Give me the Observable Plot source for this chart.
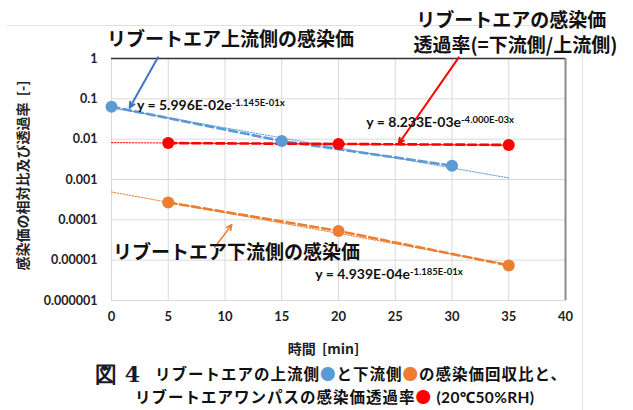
<!DOCTYPE html>
<html>
<head>
<meta charset="utf-8">
<script src="https://cdn.jsdelivr.net/npm/d3@7"></script>
<script src="https://cdn.jsdelivr.net/npm/@observablehq/plot@0.6"></script>
<style>
  html, body { margin: 0; padding: 0; background: #fff; }
  #wrap { position: relative; width: 633px; height: 410px; overflow: hidden; background: #fff; }
  #chart { position: absolute; left: 0; top: 0; }
  .outline-top { position: absolute; left: 7px; top: 25px; width: 575px; height: 0; border-top: 1px solid #e0e0e0; }
  .outline-right { position: absolute; left: 582px; top: 25px; width: 0; height: 385px; border-left: 1px solid #e0e0e0; }
  .cap { position: absolute; font-family: "Noto Sans CJK JP", sans-serif; font-weight: 700; font-size: 15.5px; letter-spacing: 1px; color: #111; white-space: nowrap; line-height: 1; }
  .fig { position: absolute; left: 95px; top: 363px; font-family: "DejaVu Serif", "Liberation Serif", serif; font-weight: bold; font-size: 22px; color: #1a1a2a; white-space: nowrap; line-height: 1; }
  .lat { font-family: Lato, "Noto Sans", sans-serif; letter-spacing: 0.3px; }
</style>
</head>
<body>
<div id="wrap">
  <div class="outline-top"></div>
  <div class="outline-right"></div>
  <div id="chart"></div>
  <div class="fig">図 4</div>
  <div class="cap" id="cap1" style="left:155px; top:366px;"></div>
  <div class="cap" id="cap2" style="left:135px; top:389px;"></div>
</div>
<script>
// ---- data ----
const xTicks = [0, 5, 10, 15, 20, 25, 30, 35, 40];
const yTicks = [1, 0.1, 0.01, 0.001, 0.0001, 0.00001, 0.000001];
const yTickLabels = ["1", "0.1", "0.01", "0.001", "0.0001", "0.00001", "0.000001"];

// upstream (blue)
const upX = [0, 15, 30];
const upY = [0.064, 0.0090, 0.0022];
// downstream (orange)
const downX = [5, 20, 35];
const downY = [0.00027, 0.000053, 0.0000074];
// transmission rate (red)
const transX = [5, 20, 35];
const transY = [0.0080, 0.0076, 0.0072];

// exponential trend lines (straight on log scale), endpoints
const trendX = [0, 35];
const upTrendY = [0.060, 0.00109];
const downTrendY = [0.00049, 0.0000078];
const transTrendY = [0.0082, 0.0071];

const BLUE = "#5B9BD5", ORANGE = "#ED7D31", RED = "#FF0000";

const upData = upX.map((x, i) => ({x, y: upY[i]}));
const downData = downX.map((x, i) => ({x, y: downY[i]}));
const transData = transX.map((x, i) => ({x, y: transY[i]}));
const upTrend = trendX.map((x, i) => ({x, y: upTrendY[i]}));
const downTrend = trendX.map((x, i) => ({x, y: downTrendY[i]}));
const transTrend = trendX.map((x, i) => ({x, y: transTrendY[i]}));
const tickLabelOf = new Map(yTicks.map((t, i) => [t, yTickLabels[i]]));

// annotations (data-space anchors)
const jpTitles = [
  {x: -0.4, y: 2.84, text: "リブートエア上流側の感染価"},
  {x: 26.85, y: 8.6, text: "リブートエアの感染価"},
  {x: 26.6, y: 2.1, text: "透過率(=下流側/上流側)"},
  {x: 0.13, y: 1.5e-5, text: "リブートエア下流側の感染価"}
];
const equations = [
  {x: 2.25, y: 0.068, text: "y = 5.996E-02e^-1.145E-01x"},
  {x: 22.45, y: 0.0262, text: "y = 8.233E-03e^-4.000E-03x"},
  {x: 17.95, y: 4.3e-6, text: "y = 4.939E-04e^-1.185E-01x"}
];
const arrows = [
  {x1: 4.1, y1: 1.07, x2: 1.6, y2: 0.06, c: "#4472C4", w: 2},
  {x1: 30.6, y1: 1.07, x2: 25.3, y2: 0.0077, c: RED, w: 2},
  {x1: 9.1, y1: 2.1e-5, x2: 10.6, y2: 7.6e-5, c: ORANGE, w: 1.6}
];

const chart = Plot.plot({
  width: 633,
  height: 362,
  marginLeft: 111,
  marginRight: 68,
  marginTop: 58,
  marginBottom: 62,
  style: {background: "transparent", overflow: "visible"},
  x: {domain: [0, 40]},
  y: {type: "log", domain: [1e-6, 1]},
  marks: [
    Plot.gridX({ticks: xTicks, stroke: "#d9d9d9", strokeOpacity: 1}),
    Plot.gridY({ticks: yTicks, stroke: "#d9d9d9", strokeOpacity: 1}),
    Plot.frame({stroke: "#d9d9d9"}),
    Plot.ruleY([1], {stroke: "#333", strokeWidth: 1.5}),
    Plot.ruleX([40], {stroke: "#8a8a8a", strokeWidth: 2}),
    Plot.axisX({ticks: xTicks, tickSize: 0, tickPadding: 11, label: null,
      fontSize: 13, fontWeight: "bold", fontFamily: "Lato, sans-serif", fill: "#222"}),
    Plot.axisY({ticks: yTicks, tickSize: 0, tickPadding: 14, label: null,
      tickFormat: d => tickLabelOf.get(d),
      fontSize: 12.5, fontWeight: "bold", fontFamily: "Lato, sans-serif", fill: "#222"}),
    Plot.text(["時間  [min]"], {frameAnchor: "bottom", dx: -15, dy: 53, fontSize: 14, fontWeight: "bold",
      fontFamily: "Noto Sans CJK JP, sans-serif", fill: "#222"}),
    Plot.text(["感染価の相対比及び透過率  [-]"], {frameAnchor: "left", textAnchor: "middle", rotate: -90, dx: -88, dy: -4,
      fontSize: 14, fontWeight: "bold", fontFamily: "Noto Sans CJK JP, sans-serif", fill: "#222"}),
    // trend lines
    Plot.line(upTrend, {x: "x", y: "y", stroke: BLUE, strokeWidth: 1, strokeDasharray: "1.5,1.5"}),
    Plot.line(downTrend, {x: "x", y: "y", stroke: ORANGE, strokeWidth: 1, strokeDasharray: "1.5,1.5"}),
    Plot.line(transTrend, {x: "x", y: "y", stroke: RED, strokeWidth: 1, strokeDasharray: "1.5,1.5"}),
    // connecting dashed lines
    Plot.line(upData, {x: "x", y: "y", stroke: BLUE, strokeWidth: 2.6, strokeDasharray: "8,4"}),
    Plot.line(downData, {x: "x", y: "y", stroke: ORANGE, strokeWidth: 2.6, strokeDasharray: "8,4"}),
    Plot.line(transData, {x: "x", y: "y", stroke: RED, strokeWidth: 2.6, strokeDasharray: "8,4"}),
    // points
    Plot.dot(upData, {x: "x", y: "y", r: 6, fill: BLUE}),
    Plot.dot(downData, {x: "x", y: "y", r: 6, fill: ORANGE}),
    Plot.dot(transData, {x: "x", y: "y", r: 6, fill: RED}),
    // arrows
    Plot.arrow(arrows, {x1: "x1", y1: "y1", x2: "x2", y2: "y2", stroke: "c", strokeWidth: "w",
      headLength: 9, headAngle: 50}),
    // annotation texts
    Plot.text(jpTitles, {x: "x", y: "y", text: "text", textAnchor: "start", fontSize: 19, fontWeight: "bold",
      fontFamily: "Noto Sans CJK JP, sans-serif", fill: "#111"}),
    Plot.text(equations, {x: "x", y: "y", text: "text", textAnchor: "start", fontSize: 14, fontWeight: "bold",
      fontFamily: "Lato, sans-serif", fill: "#111"})
  ]
});

// superscript formatting for the equations
d3.select(chart).selectAll("text").each(function () {
  const t = this.textContent;
  if (t.includes("^") && this.childElementCount === 0) {
    const [main, sup] = t.split("^");
    const el = d3.select(this);
    el.text(null);
    el.append("tspan").text(main);
    el.append("tspan").attr("dy", "-0.45em").attr("font-size", 9.5).text(sup);
  }
});
document.getElementById("chart").appendChild(chart);

// caption
const cap1 = document.getElementById("cap1");
cap1.innerHTML = 'リブートエアの上流側<span style="color:' + BLUE + '">●</span>と下流側<span style="color:' + ORANGE + '">●</span>の感染価回収比と、';
const cap2 = document.getElementById("cap2");
cap2.innerHTML = 'リブートエアワンパスの感染価透過率<span style="color:' + RED + '">●</span> <span class="lat">(20℃50%RH)</span>';
</script>
</body>
</html>
